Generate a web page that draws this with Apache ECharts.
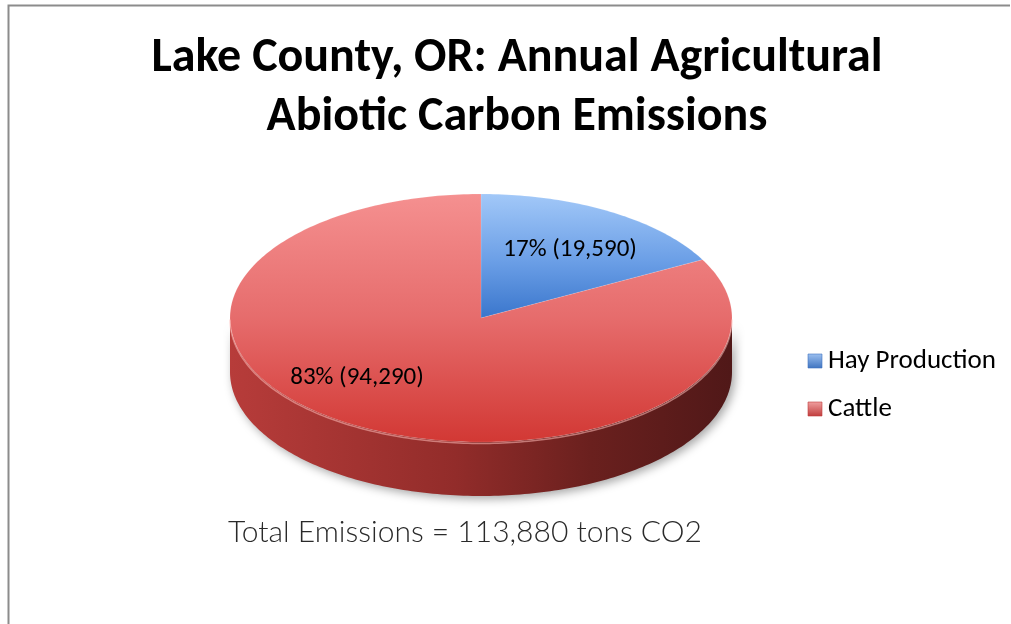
<!DOCTYPE html>
<html>
<head>
<meta charset="utf-8">
<script src="https://cdn.jsdelivr.net/npm/echarts@6/dist/echarts.min.js"></script>
<style>
  html, body { margin: 0; padding: 0; background: #ffffff; }
  #chart { width: 1011px; height: 624px; }
</style>
</head>
<body>
<div id="chart"></div>
<script>
// Categories and annual emissions (tons CO2)
const categories = ['Hay Production', 'Cattle'];
const emissions = [19590, 94290];
const titleLines = ['Lake County, OR: Annual Agricultural', 'Abiotic Carbon Emissions'];
const totalLabel = 'Total Emissions = 113,880 tons CO2';

// Slice appearance
const topGradients = [
  [[0, '#a2c8f8'], [0.55, '#6a9ee6'], [1, '#3a76cc']],
  [[0, '#f59090'], [0.5, '#e66c6c'], [1, '#d23834']]
];
const sideGradients = [
  [[0, '#6c9ad8'], [1, '#2a4f86']],
  [[0, '#b73c3a'], [0.45, '#922c2a'], [0.72, '#6a201e'], [1, '#501818']]
];
const legendColors = [
  ['#9cc0f0', '#3f74c0'],
  ['#f0a0a0', '#c03c3c']
];
// label anchor as fraction of radii along the slice's mid angle
const labelReach = [[0.69, 0.64], [0.96, 0.56]];

// Pie geometry (elliptical top face plus visible rim)
const geo = { cx: 481, cy: 318, rx: 251, ry: 124, depth: 54 };

const total = emissions.reduce((a, b) => a + b, 0);
const starts = [];
let acc = 0;
emissions.forEach(v => { starts.push(acc / total * 360); acc += v; });

function pt(deg, dy) {
  const r = deg * Math.PI / 180;
  return [geo.cx + geo.rx * Math.sin(r), geo.cy - geo.ry * Math.cos(r) + (dy || 0)];
}
function arc(a0, a1, dy) {
  const pts = [];
  const n = Math.max(2, Math.ceil(Math.abs(a1 - a0)));
  for (let i = 0; i <= n; i++) pts.push(pt(a0 + (a1 - a0) * i / n, dy));
  return pts;
}
function fmt(v) { return v.toLocaleString('en-US'); }

function renderSlice(params, api) {
  const i = params.dataIndex;
  const v = api.value(0);
  const a0 = starts[i];
  const a1 = a0 + v / total * 360;
  const children = [];

  // front rim, visible between 90° and 270° (clockwise from 12 o'clock)
  const s = Math.max(a0, 90), e = Math.min(a1, 270);
  if (e > s) {
    const upper = arc(s, e, 0);
    const lower = arc(e, s, geo.depth);
    children.push({
      type: 'polygon',
      z2: 1,
      shape: { points: upper.concat(lower) },
      style: {
        fill: new echarts.graphic.LinearGradient(geo.cx - geo.rx, 0, geo.cx + geo.rx, 0,
          sideGradients[i].map(([o, c]) => ({ offset: o, color: c })), true),
        shadowColor: 'rgba(0,0,0,0.35)',
        shadowBlur: 10,
        shadowOffsetX: 3,
        shadowOffsetY: 3
      }
    });
    // soft highlight along the rim's upper edge
    children.push({
      type: 'polyline',
      z2: 3,
      shape: { points: arc(s, e, 1.5) },
      style: { stroke: 'rgba(255,190,185,0.55)', lineWidth: 1.5, fill: null }
    });
  }

  // top face
  const yTop = geo.cy - geo.ry;
  const yEnd = (a1 <= 180) ? geo.cy : geo.cy + geo.ry;
  children.push({
    type: 'polygon',
    z2: 2,
    shape: { points: [[geo.cx, geo.cy]].concat(arc(a0, a1, 0)) },
    style: {
      fill: new echarts.graphic.LinearGradient(0, yTop, 0, yEnd,
        topGradients[i].map(([o, c]) => ({ offset: o, color: c })), true),
      stroke: 'rgba(255,255,255,0.15)',
      lineWidth: 0.8
    }
  });

  // value label
  const mid = (a0 + a1) / 2 * Math.PI / 180;
  const lx = geo.cx + geo.rx * Math.sin(mid) * labelReach[i][0];
  const ly = geo.cy - geo.ry * Math.cos(mid) * labelReach[i][1];
  children.push({
    type: 'text',
    z2: 5,
    x: lx,
    y: ly,
    style: {
      text: Math.round(v / total * 100) + '% (' + fmt(v) + ')',
      fill: '#000000',
      font: '25px Carlito, Lato, sans-serif',
      align: 'center',
      verticalAlign: 'middle'
    }
  });

  return { type: 'group', children };
}

const legendGraphics = [];
categories.forEach((name, i) => {
  const y = 361 + i * 48;
  legendGraphics.push({
    type: 'rect',
    shape: { x: 808, y: y - 7, width: 14, height: 14 },
    style: {
      fill: new echarts.graphic.LinearGradient(0, 0, 0, 1, [
        { offset: 0, color: legendColors[i][0] },
        { offset: 1, color: legendColors[i][1] }
      ]),
      stroke: legendColors[i][1],
      lineWidth: 0.6
    }
  });
  legendGraphics.push({
    type: 'text',
    x: 828,
    y: y,
    style: {
      text: name,
      fill: '#000000',
      font: '27px Carlito, Lato, sans-serif',
      verticalAlign: 'middle'
    }
  });
});

const chart = echarts.init(document.getElementById('chart'), null, { renderer: 'canvas' });
chart.setOption({
  backgroundColor: '#ffffff',
  animation: false,
  title: {
    text: titleLines.join('\n'),
    left: 512,
    top: 24,
    textAlign: 'center',
    textStyle: {
      fontFamily: 'Carlito, Lato, sans-serif',
      fontWeight: 'bold',
      fontSize: 48,
      lineHeight: 59,
      color: '#000000'
    }
  },
  graphic: [
    {
      type: 'polyline',
      shape: { points: [[8.5, 624], [8.5, 5.5], [1010, 5.5]] },
      style: { stroke: '#8c8c8c', lineWidth: 2, fill: null }
    },
    {
      type: 'text',
      x: 465,
      y: 532,
      style: {
        text: totalLabel,
        fill: '#2a2a2a',
        font: '300 30px Lato, sans-serif',
        align: 'center',
        verticalAlign: 'middle'
      }
    }
  ].concat(legendGraphics),
  series: [{
    type: 'custom',
    coordinateSystem: 'none',
    renderItem: renderSlice,
    data: emissions.map((v, i) => ({ name: categories[i], value: [v] }))
  }]
});
</script>
</body>
</html>
